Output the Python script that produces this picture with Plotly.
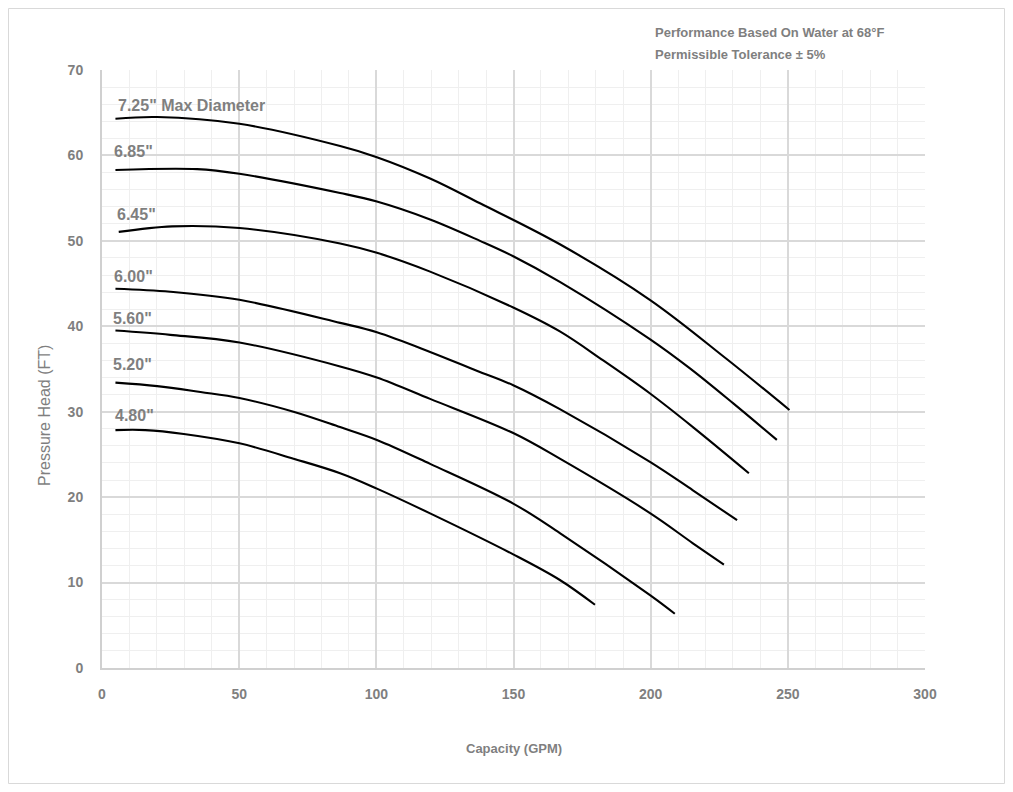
import plotly.graph_objects as go

# Data (GPM, FT)
gpm_725 = [4.9, 20.1, 50.1, 86.8, 100.2, 119.6, 137.8, 166.9, 199.7, 227.6, 250.6]
ft_725 = [64.3, 64.5, 63.7, 61.1, 59.8, 57.3, 54.4, 49.6, 43.1, 36.2, 30.2]

gpm_685 = [4.9, 34.7, 50.1, 86.8, 100.2, 119.6, 137.8, 149.9, 166.9, 199.7, 214.2, 230.0, 246.0]
ft_685 = [58.3, 58.4, 57.85, 55.6, 54.6, 52.5, 50.0, 48.2, 45.2, 38.5, 35.1, 31.0, 26.7]

gpm_645 = [6.1, 25.6, 50.1, 86.8, 100.2, 119.6, 149.9, 166.9, 182.7, 199.9, 215.4, 235.8]
ft_645 = [51.05, 51.7, 51.5, 49.7, 48.6, 46.4, 42.2, 39.4, 36.0, 32.1, 28.2, 22.8]

gpm_600 = [4.9, 24.9, 50.1, 86.8, 100.2, 119.6, 136.6, 149.9, 166.9, 199.9, 215.4, 231.5]
ft_600 = [44.4, 44.05, 43.1, 40.4, 39.3, 37.0, 34.8, 33.1, 30.3, 24.1, 20.8, 17.3]

gpm_560 = [4.9, 24.9, 50.1, 86.8, 100.2, 119.6, 149.9, 166.9, 199.9, 215.4, 226.7]
ft_560 = [39.5, 39.0, 38.1, 35.3, 34.0, 31.5, 27.5, 24.5, 18.1, 14.6, 12.1]

gpm_520 = [4.9, 20.1, 35.9, 50.1, 69.8, 86.8, 100.2, 119.6, 149.9, 166.9, 199.9, 208.8]
ft_520 = [33.4, 33.0, 32.3, 31.6, 30.0, 28.2, 26.7, 23.9, 19.25, 15.8, 8.5, 6.35]

gpm_480 = [4.9, 15.8, 29.8, 50.1, 69.8, 86.8, 100.2, 119.6, 149.9, 166.9, 179.7]
ft_480 = [27.85, 27.85, 27.4, 26.3, 24.5, 22.8, 21.0, 18.1, 13.3, 10.3, 7.4]

curve_labels = ['7.25" Max Diameter', '6.85"', '6.45"', '6.00"', '5.60"', '5.20"', '4.80"']
label_x = [5.0, 3.8, 4.8, 3.8, 3.3, 3.3, 4.0]
label_y = [65.8, 60.5, 53.05, 45.8, 40.9, 35.5, 29.5]

x_ticks = [0, 50, 100, 150, 200, 250, 300]
y_ticks = [0, 10, 20, 30, 40, 50, 60, 70]

note_lines = ["Performance Based On Water at 68°F", "Permissible Tolerance ± 5%"]
x_title = "Capacity (GPM)"
y_title = "Pressure Head (FT)"

series = [(gpm_725, ft_725), (gpm_685, ft_685), (gpm_645, ft_645), (gpm_600, ft_600),
          (gpm_560, ft_560), (gpm_520, ft_520), (gpm_480, ft_480)]

GRAY = "#7f7f7f"
FONT = "Liberation Sans, Arial, sans-serif"

fig = go.Figure()
for (gx, gy), name in zip(series, curve_labels):
    fig.add_trace(go.Scatter(x=gx, y=gy, mode="lines", name=name,
                             line=dict(color="black", width=2.1, shape="spline", smoothing=1.0),
                             showlegend=False, hoverinfo="skip"))

for txt, lx, ly in zip(curve_labels, label_x, label_y):
    fig.add_annotation(x=lx, y=ly, text="<b>" + txt + "</b>", showarrow=False,
                       xanchor="left", yanchor="middle",
                       font=dict(family=FONT, size=16, color=GRAY))

W, H = 997, 776
ml, mr, mt, mb = 94, 80, 62, 116
pw, ph = W - ml - mr, H - mt - mb
plot_bottom = H - mb


def px_x(fx):
    return (fx - ml) / pw


def px_y(fy):
    return (plot_bottom - fy) / ph


for i, line_txt in enumerate(note_lines):
    fig.add_annotation(xref="paper", yref="paper", x=px_x(645), y=px_y(25 + 22 * i),
                       text="<b>" + line_txt + "</b>", showarrow=False,
                       xanchor="left", yanchor="middle", align="left",
                       font=dict(family=FONT, size=13, color=GRAY))

fig.add_annotation(xref="paper", yref="paper", x=px_x(506), y=px_y(740),
                   text="<b>" + x_title + "</b>", showarrow=False,
                   xanchor="center", yanchor="middle",
                   font=dict(family=FONT, size=13, color=GRAY))
fig.add_annotation(xref="paper", yref="paper", x=px_x(36), y=px_y(408),
                   text=y_title, showarrow=False, textangle=-90,
                   xanchor="center", yanchor="middle",
                   font=dict(family=FONT, size=16, color=GRAY))

# outer chart border
fig.add_shape(type="rect", xref="paper", yref="paper",
              x0=px_x(0.5), x1=px_x(W - 0.5), y0=px_y(H - 0.5), y1=px_y(0.5),
              line=dict(color="#d9d9d9", width=1), layer="below")

fig.update_xaxes(range=[0, 300], tickvals=x_ticks, showgrid=True, gridcolor="#d9d9d9", gridwidth=2,
                 minor=dict(dtick=10, showgrid=True, gridcolor="#efefef", gridwidth=1),
                 zeroline=False, showline=True, linecolor="#d0d0d0", linewidth=2,
                 ticks="", ticklabelstandoff=12,
                 tickfont=dict(family=FONT, size=14, color=GRAY, weight="bold"))
fig.update_yaxes(range=[0, 70], tickvals=y_ticks, showgrid=True, gridcolor="#d9d9d9", gridwidth=2,
                 minor=dict(dtick=2, showgrid=True, gridcolor="#efefef", gridwidth=1),
                 zeroline=False, showline=True, linecolor="#d0d0d0", linewidth=2,
                 ticks="", ticklabelstandoff=14,
                 tickfont=dict(family=FONT, size=14, color=GRAY, weight="bold"))

fig.update_layout(width=W, height=H, margin=dict(l=ml, r=mr, t=mt, b=mb),
                  plot_bgcolor="white", paper_bgcolor="white", showlegend=False)

fig.write_html("out.html")
